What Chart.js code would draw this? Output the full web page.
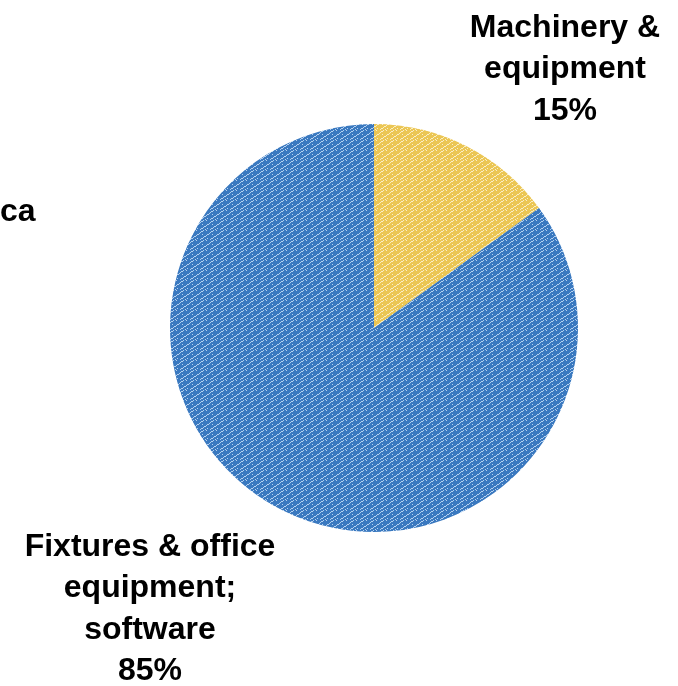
<!DOCTYPE html>
<html>
<head>
<meta charset="utf-8">
<script src="https://cdn.jsdelivr.net/npm/chart.js@4"></script>
<style>
  html, body { margin: 0; padding: 0; background: #fff; }
  #wrap { width: 678px; height: 686px; position: relative; }
</style>
</head>
<body>
<div id="wrap"><canvas id="pie" width="678" height="686"></canvas></div>
<script>
const categories = ["Machinery & equipment", "Fixtures & office equipment; software"];
const shares = [15, 85];
const labelLines = [
  ["Machinery &", "equipment", "15%"],
  ["Fixtures & office", "equipment;", "software", "85%"]
];
const baseColors = ["#ebc654", "#3a79c0"];
const lightColors = ["#fbeec4", "#b4d0ef"];

// woven look: light zigzag stitches on the base colour
function makePattern(base, light) {
  const c = document.createElement("canvas");
  c.width = 10; c.height = 10;
  const g = c.getContext("2d");
  g.fillStyle = base;
  g.fillRect(0, 0, 10, 10);
  g.fillStyle = light;
  const pts = [
    [0,9],[1,8],[2,8],[3,7],[4,6],[5,6],[6,5],[7,4],[8,4],[9,3],
    [0,2],[1,1],[2,1],[3,0],
    [5,9],[6,0],[2,4],[7,8]
  ];
  pts.forEach(p => g.fillRect(p[0], p[1], 1, 1));
  return document.getElementById("pie").getContext("2d").createPattern(c, "repeat");
}

const fills = baseColors.map((b, i) => makePattern(b, lightColors[i]));

const labelPlugin = {
  id: "sliceLabels",
  afterDraw(chart) {
    const ctx = chart.ctx;
    const a = chart.chartArea;
    ctx.save();
    ctx.fillStyle = "#000";
    ctx.font = "bold 32px 'Liberation Sans', Arial, sans-serif";
    ctx.textBaseline = "middle";
    ctx.textAlign = "center";
    const spots = [[a.right - 13, 28], [a.left - 20, 547]];
    labelLines.forEach((lines, i) => {
      lines.forEach((t, j) => ctx.fillText(t, spots[i][0], spots[i][1] + j * 41.5));
    });
    ctx.textAlign = "left";
    ctx.fillText("ca", 0, 212);
    ctx.restore();
  }
};

new Chart(document.getElementById("pie"), {
  type: "pie",
  data: {
    labels: categories,
    datasets: [{
      data: shares,
      backgroundColor: fills,
      borderWidth: 0
    }]
  },
  options: {
    responsive: false,
    animation: false,
    layout: { padding: { left: 170, right: 100, top: 124, bottom: 154 } },
    plugins: { legend: { display: false }, tooltip: { enabled: false } }
  },
  plugins: [labelPlugin]
});
</script>
</body>
</html>
